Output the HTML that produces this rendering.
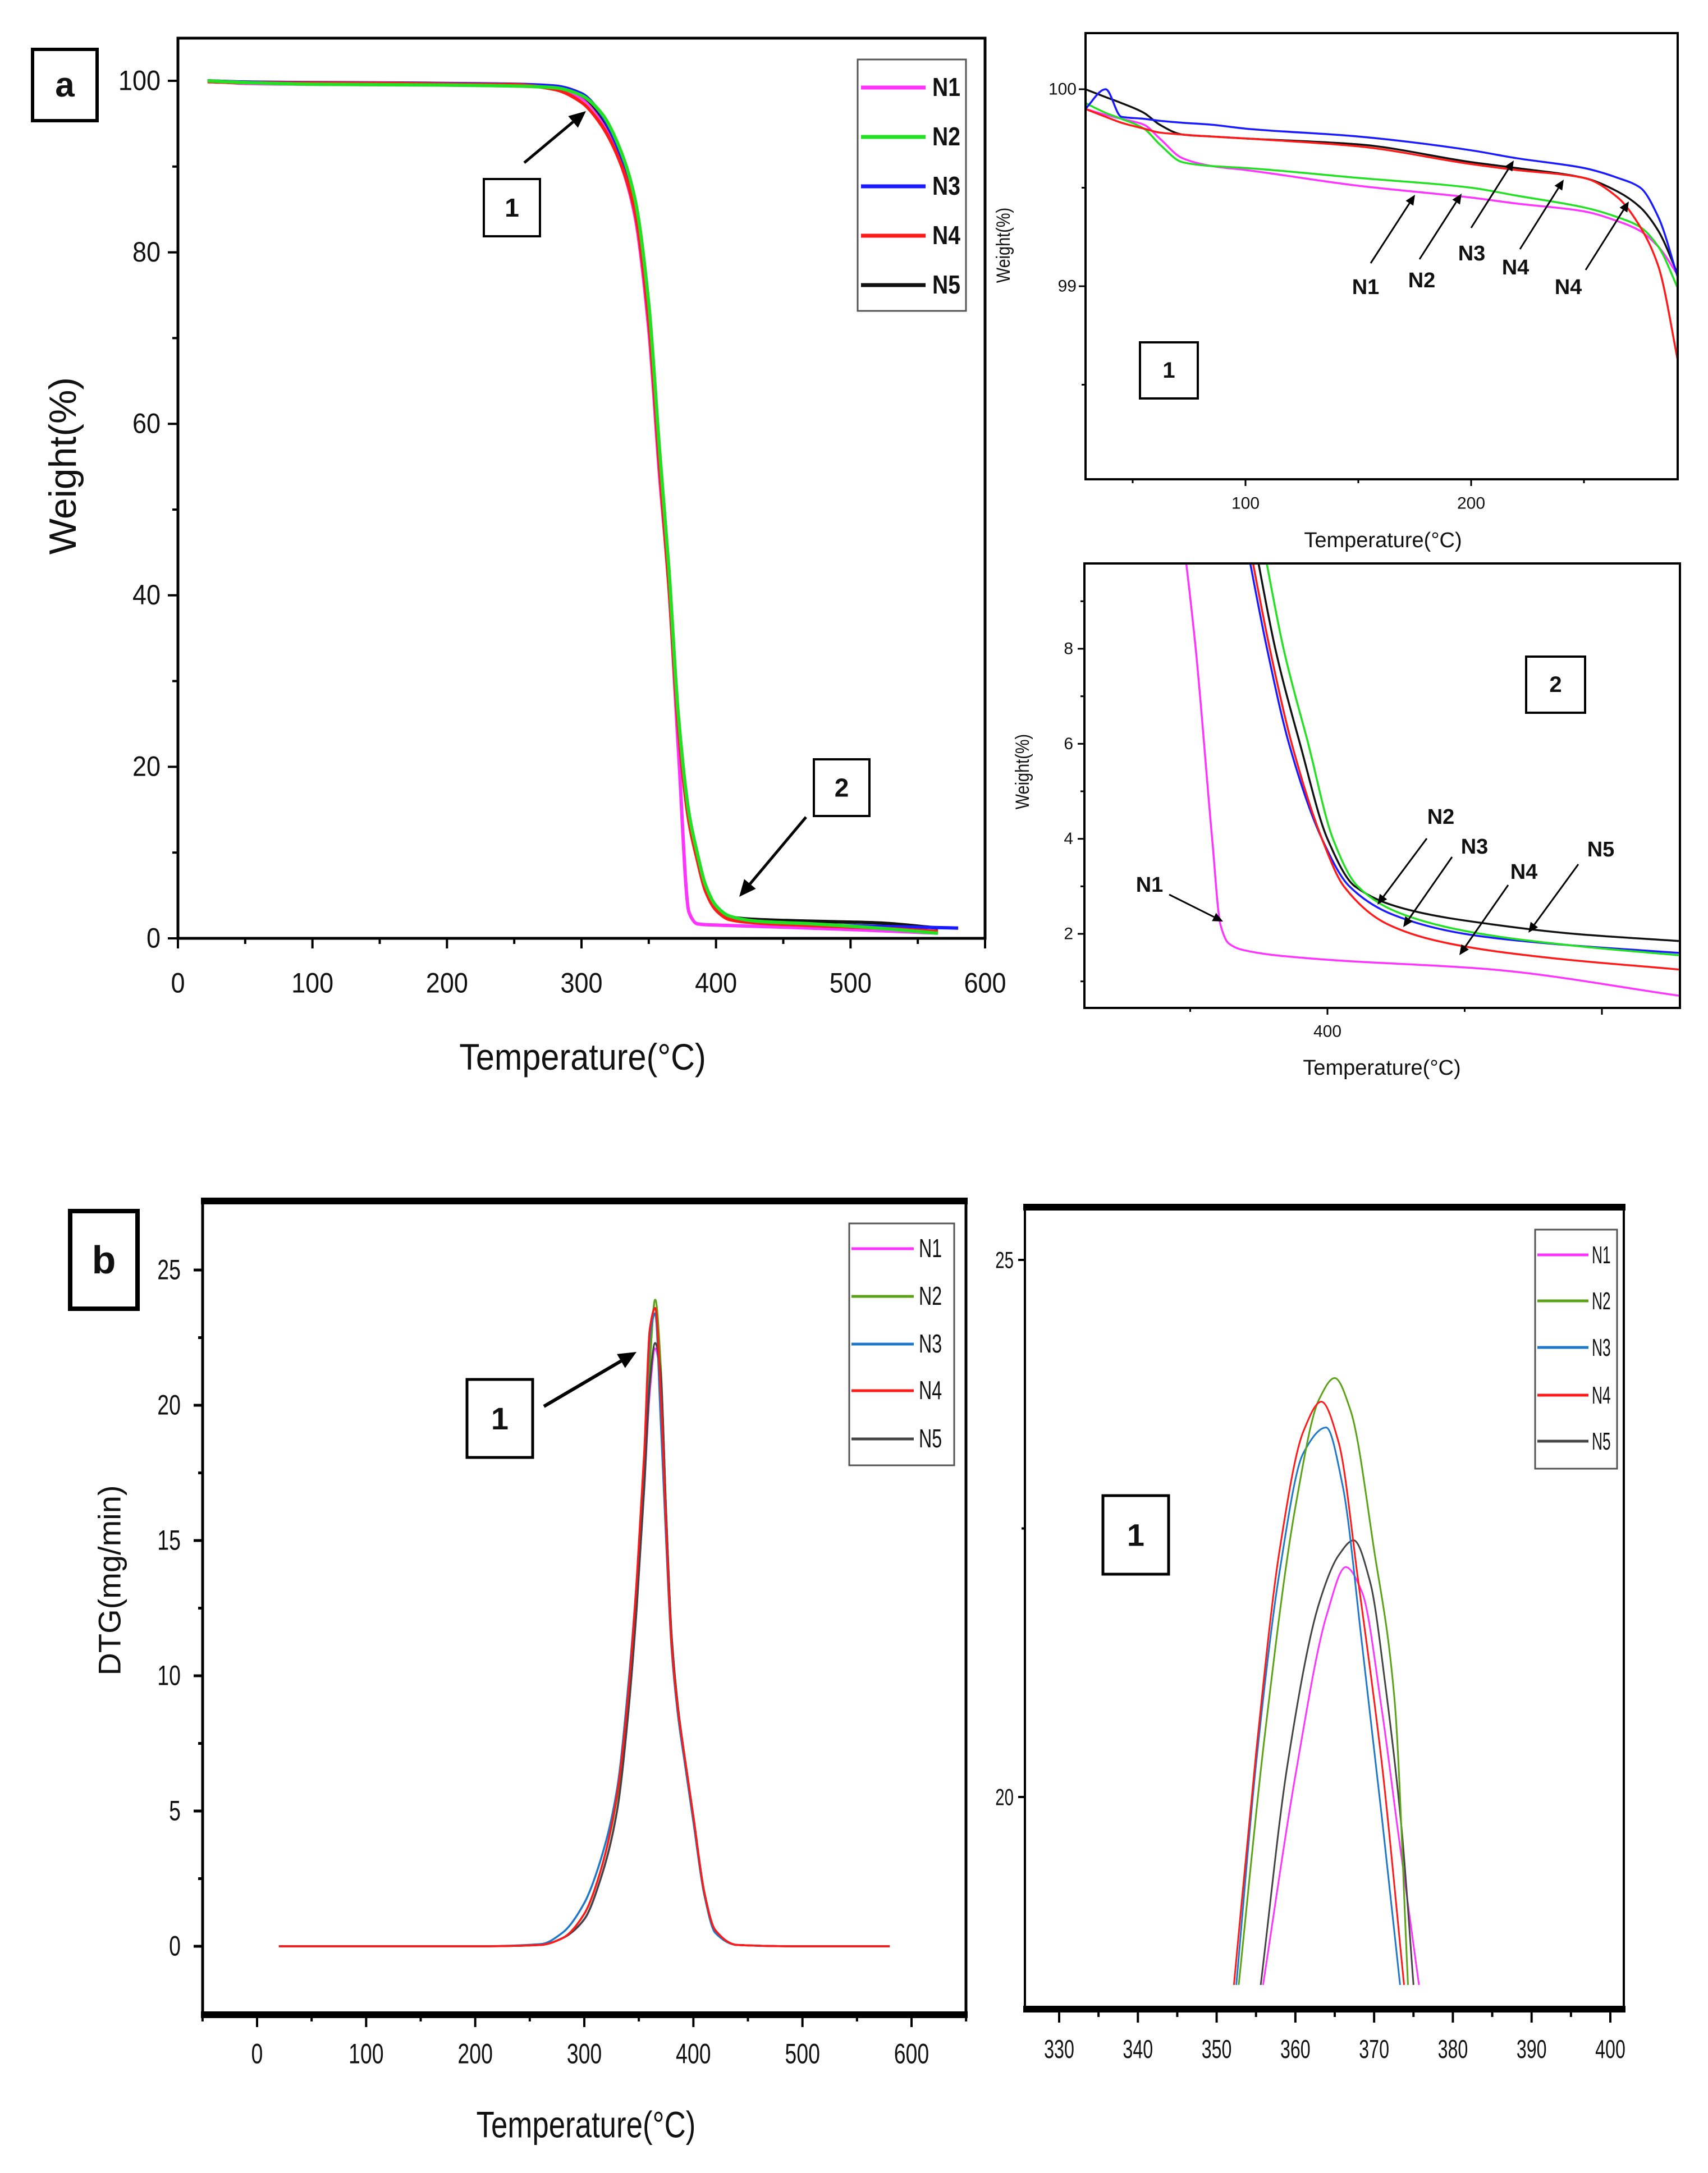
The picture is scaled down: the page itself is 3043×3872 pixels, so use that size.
<!DOCTYPE html>
<html><head><meta charset="utf-8">
<style>
html,body{margin:0;padding:0;background:#fff;}
svg{display:block;}
text{font-family:"Liberation Sans",Arial,sans-serif;fill:#111;}
</style></head>
<body>
<svg id="fig" width="3043" height="3872" viewBox="0 0 3043 3872" xmlns="http://www.w3.org/2000/svg">
<rect x="0" y="0" width="3043" height="3872" fill="#fff"/>
</svg>
<script>
// ---------- DATA ----------
const seriesNames = ["N1","N2","N3","N4","N5"];
// Panel a main TGA
const aTemps = [22,50,100,150,200,250,280,300,315,330,340,350,358,365,372,380,386,392,400,410,430,470,520,565,580];
const aN1 = [100,99.7,99.6,99.55,99.5,99.4,99.2,98,95.5,90,84,71,54,41,22,3,1.7,1.6,1.55,1.5,1.4,1.2,0.9,0.6,null];
const aN2 = [100,99.8,99.6,99.55,99.5,99.4,99.2,98.3,96.2,91.5,86,74,57,43,26,14.5,10,6.3,3.8,2.6,2.0,1.7,1.2,0.6,null];
const aN3 = [100,99.85,99.8,99.76,99.69,99.6,99.4,98.5,96,91,85.5,73,56,42,25,14,9.5,5.8,3.5,2.4,1.9,1.6,1.4,1.25,1.2];
const aN4 = [99.9,99.78,99.75,99.72,99.62,99.55,99.0,97.5,94.8,90,84.5,72,55,41,24.5,13.5,9.2,5.6,3.3,2.2,1.8,1.5,1.2,0.8,null];
const aN5 = [100,99.85,99.75,99.72,99.63,99.55,99.3,98.3,95.8,91,85,73,56,42,25,14,9.5,5.8,3.5,2.5,2.2,2.0,1.8,1.2,null];
// Inset 1 (zoom near 100%)
const i1Temps = [29,38,45,55,62,72,85,100,150,200,220,250,265,275,283,292];
const i1N1 = [99.9,99.87,99.85,99.82,99.75,99.65,99.61,99.59,99.51,99.45,99.42,99.38,99.33,99.28,99.2,99.05];
const i1N2 = [99.93,99.88,99.85,99.8,99.72,99.63,99.61,99.6,99.55,99.5,99.46,99.4,99.35,99.3,99.2,98.98];
const i1N3 = [99.9,100,99.86,99.85,99.84,99.83,99.82,99.8,99.76,99.69,99.65,99.6,99.55,99.5,99.35,99.03];
const i1N4 = [99.9,99.86,99.83,99.8,99.78,99.77,99.76,99.75,99.71,99.62,99.59,99.55,99.45,99.3,99.1,98.6];
const i1N5 = [100,99.96,99.93,99.88,99.82,99.77,99.76,99.75,99.72,99.63,99.6,99.55,99.48,99.4,99.28,99.05];
// Inset 2 (tail)
const i2N1T = [372,376,379,380.5,382,385,395,430,464];
const i2N1W = [12,8,4,2.2,1.8,1.65,1.5,1.25,0.7];
const i2N2T = [387,389,392,396.5,401,405.5,414,428,445,464];
const i2N2W = [11,9.76,8,6,4,3,2.4,2.0,1.75,1.55];
const i2N3T = [384,386,389,393,399,404,412,425,440,464];
const i2N3W = [11,9.76,8,6,4,3,2.4,2.0,1.8,1.6];
const i2N4T = [384.5,386.5,389.5,393.5,399,403,411,422,440,464];
const i2N4W = [11,9.76,8,6,4,3,2.2,1.8,1.5,1.25];
const i2N5T = [385.5,387.5,390.5,395,400,405,415,430,445,464];
const i2N5W = [11,9.76,8,6,4,3,2.5,2.2,2.0,1.85];
// Panel b main DTG
const bTemps = [20,100,200,260,280,300,315,330,340,348,355,360,365,370,375,380,386,392,400,410,420,440,500,580];
const bN1 = [0,0,0,0.05,0.3,1.0,2.5,5.0,8.5,12.5,17,20.5,22.1,21,16,11.5,8.8,7,4.8,2,0.6,0.05,0,0];
const bN2 = [0,0,0,0.05,0.3,1.2,2.8,5.5,9,13,17.5,21.5,23.9,21.5,16,11.5,8.8,7,4.8,2,0.6,0.05,0,0];
const bN3 = [0,0,0,0.08,0.5,1.6,3.2,5.8,9.5,13.5,18,22.5,23.4,19.5,15,11,8.5,6.8,4.6,1.9,0.5,0.05,0,0];
const bN4 = [0,0,0,0.05,0.3,1.2,2.8,5.6,9.2,13.5,18.3,22.8,23.6,20.5,15.5,11.2,8.7,7,4.8,2,0.6,0.05,0,0];
const bN5 = [0,0,0,0.05,0.3,1.0,2.5,5.0,8.5,12.5,17,20.8,22.3,21.2,16,11.5,8.8,7,4.8,2,0.6,0.05,0,0];
// Panel b inset DTG (zoomed peak)
const ibN1T = [355.9,360,364,366.4,368.5,371,373,375.7];
const ibN1V = [18.25,20.2,21.7,22.14,21.9,20.8,19.7,18.25];
const ibN2T = [352.8,356,360,363,365,367,370,372.6,374.3];
const ibN2V = [18.25,20.5,22.7,23.7,23.9,23.6,22.3,20.9,18.25];
const ibN3T = [352.5,355,358,361,363.9,366,368.5,371,373.3];
const ibN3V = [18.25,20.3,22.1,23.2,23.44,22.9,21.4,19.8,18.25];
const ibN4T = [352.2,355,358,361,363.3,365.5,368,371,373.8];
const ibN4V = [18.25,20.4,22.3,23.4,23.68,23.3,22.0,20.3,18.25];
const ibN5T = [355.6,359,363,365.5,367.4,369.5,371.5,373.5,375.0];
const ibN5V = [18.25,20.3,21.8,22.25,22.39,22.0,21.0,19.7,18.25];

const colA = ["#ff33ff","#22e022","#1a1aff","#ff1a1a","#111111"];
const colB = ["#ff33ff","#5aa317","#1f78c8","#ff1a1a","#444444"];

// ---------- HELPERS ----------
const NS="http://www.w3.org/2000/svg";
const svg=document.getElementById('fig');
function mk(tag,attrs,name,parent){
  const el=document.createElementNS(NS,tag);
  for(const k in attrs) el.setAttribute(k,attrs[k]);
  
  
  (parent||svg).appendChild(el);
  return el;
}
function txt(s,x,y,size,name,opts){
  opts=opts||{};
  const t=mk('text',{x:x,y:y,'font-size':size,'text-anchor':opts.anchor||'middle','dominant-baseline':'central','font-weight':opts.weight||'normal'},name,opts.parent);
  if(opts.sx){t.setAttribute('transform','translate('+x+' '+y+') scale('+opts.sx+' 1) translate('+(-x)+' '+(-y)+')');}
  if(opts.rot){t.setAttribute('transform','rotate(-90 '+x+' '+y+')'+(opts.sx?' translate('+x+' '+y+') scale('+opts.sx+' 1) translate('+(-x)+' '+(-y)+')':''));}
  t.textContent=s;
  return t;
}
function scale(d0,d1,p0,p1){return v=>p0+(v-d0)*(p1-p0)/(d1-d0);}
function monoPath(pts){
  const n=pts.length; if(n<2) return '';
  const dx=[],m=[],t=[];
  for(let i=0;i<n-1;i++){dx[i]=pts[i+1][0]-pts[i][0];m[i]=(pts[i+1][1]-pts[i][1])/dx[i];}
  t[0]=m[0];t[n-1]=m[n-2];
  for(let i=1;i<n-1;i++){ if(m[i-1]*m[i]<=0) t[i]=0; else t[i]=3*(dx[i-1]+dx[i])/((2*dx[i]+dx[i-1])/m[i-1]+(dx[i]+2*dx[i-1])/m[i]); }
  let d='M'+pts[0][0].toFixed(1)+','+pts[0][1].toFixed(1);
  for(let i=0;i<n-1;i++){
    const h=dx[i]/3;
    d+=' C'+(pts[i][0]+h).toFixed(1)+','+(pts[i][1]+t[i]*h).toFixed(1)+' '+(pts[i+1][0]-h).toFixed(1)+','+(pts[i+1][1]-t[i+1]*h).toFixed(1)+' '+pts[i+1][0].toFixed(1)+','+pts[i+1][1].toFixed(1);
  }
  return d;
}
function series(T,V,sx,sy,color,w,name,clip){
  const pts=[];
  for(let i=0;i<T.length;i++){ if(V[i]!==null && V[i]!==undefined) pts.push([sx(T[i]),sy(V[i])]); }
  const p=mk('path',{d:monoPath(pts),fill:'none',stroke:color,'stroke-width':w,'stroke-linejoin':'round'},name);
  if(clip) p.setAttribute('clip-path','url(#'+clip+')');
  return p;
}
function clipRect(id,x,y,w,h){
  let defs=svg.querySelector('defs'); if(!defs) defs=mk('defs',{},'defs');
  const c=mk('clipPath',{id:id},'clip-'+id,defs);
  mk('rect',{x:x,y:y,width:w,height:h},'clip-rect-'+id,c);
}
function frame(x0,y0,x1,y1,w,name,wTB){
  mk('rect',{x:x0,y:y0,width:x1-x0,height:y1-y0,fill:'none',stroke:'#000','stroke-width':w},name);
  if(wTB){
    mk('line',{x1:x0-3,y1:y0,x2:x1+3,y2:y0,stroke:'#000','stroke-width':wTB},name+'-top');
    mk('line',{x1:x0-3,y1:y1,x2:x1+3,y2:y1,stroke:'#000','stroke-width':wTB},name+'-bottom');
  }
}
function tickX(vals,sx,y,len,w,name){vals.forEach(v=>mk('line',{x1:sx(v),y1:y,x2:sx(v),y2:y+len,stroke:'#000','stroke-width':w},name));}
function tickY(vals,sy,x,len,w,name){vals.forEach(v=>mk('line',{x1:x,y1:sy(v),x2:x-len,y2:sy(v),stroke:'#000','stroke-width':w},name));}
function boxLabel(s,x0,y0,x1,y1,size,w,name){
  mk('rect',{x:x0,y:y0,width:x1-x0,height:y1-y0,fill:'#fff',stroke:'#000','stroke-width':w},name+'-box');
  txt(s,(x0+x1)/2,(y0+y1)/2,size,name,{weight:'bold'});
}
function arrow(x1,y1,x2,y2,w,head,name){
  const a=Math.atan2(y2-y1,x2-x1);
  const bx=x2-head*Math.cos(a), by=y2-head*Math.sin(a);
  mk('line',{x1:x1,y1:y1,x2:bx,y2:by,stroke:'#000','stroke-width':w},name+'-shaft');
  const px=Math.sin(a)*head*0.45, py=-Math.cos(a)*head*0.45;
  mk('polygon',{points:x2+','+y2+' '+(bx+px)+','+(by+py)+' '+(bx-px)+','+(by-py),fill:'#000'},name+'-head');
}

// ---------- PANEL A MAIN ----------
(function(){
  const L=317,R=1755,T=68,B=1672;
  const sx=scale(0,600,L,R), sy=scale(0,100,B,144);
  clipRect('ca',L,T,R-L,B-T);
  const data=[aN1,aN2,aN3,aN4,aN5];
  const order=[0,4,2,3,1];
  order.forEach(i=>series(aTemps,data[i],sx,sy,colA[i],6,'tga-line-'+seriesNames[i].toLowerCase(),'ca'));
  frame(L,T,R,B,5,'tga-plot-frame');
  tickX([0,100,200,300,400,500,600],sx,B,18,4,'x-major-tick');
  tickX([50,150,250,350,450,550],sx,B,10,4,'x-minor-tick');
  tickY([0,20,40,60,80,100],sy,L,18,4,'y-major-tick');
  tickY([10,30,50,70,90],sy,L,10,4,'y-minor-tick');
  [0,100,200,300,400,500,600].forEach(v=>txt(String(v),sx(v),1752,50,'x-tick-label',{sx:0.9}));
  [0,20,40,60,80,100].forEach(v=>txt(String(v),286,sy(v),50,'y-tick-label',{anchor:'end',sx:0.9}));
  txt('Temperature(°C)',1038,1884,66,'x-axis-title',{sx:0.9});
  txt('Weight(%)',112,830,68,'y-axis-title',{rot:true});
  boxLabel('a',58,88,173,215,62,6,'panel-a-label');
  // legend
  mk('rect',{x:1528,y:106,width:193,height:448,fill:'#fff',stroke:'#555','stroke-width':3},'legend-box');
  seriesNames.forEach((n,i)=>{
    const y=156+i*88;
    mk('line',{x1:1534,y1:y,x2:1649,y2:y,stroke:colA[i],'stroke-width':7},'legend-line-'+n.toLowerCase());
    txt(n,1661,y,46,'legend-entry-'+n.toLowerCase(),{anchor:'start',weight:'bold',sx:0.85});
  });
  boxLabel('1',862,319,962,421,46,4,'callout-1');
  arrow(934,290,1044,198,5,30,'callout-1-arrow');
  boxLabel('2',1450,1353,1549,1454,46,4,'callout-2');
  arrow(1436,1456,1317,1598,5,30,'callout-2-arrow');
})();

// ---------- INSET 1 ----------
(function(){
  const L=1934,R=2989,T=59,B=854;
  const sx=scale(100,200,2219,2621), sy=scale(99,100,510,159);
  clipRect('ci1',L,T,R-L,B-T);
  const data=[i1N1,i1N2,i1N3,i1N4,i1N5];
  [0,1,4,3,2].forEach(i=>series(i1Temps,data[i],sx,sy,colA[i],3.5,'inset1-line-'+seriesNames[i].toLowerCase(),'ci1'));
  frame(L,T,R,B,4,'inset1-frame');
  tickX([100,200],sx,B,12,3,'inset1-x-major-tick');
  tickX([50,150,250],sx,B,7,3,'inset1-x-minor-tick');
  tickY([99,100],sy,L,12,3,'inset1-y-major-tick');
  tickY([98.5,99.5],sy,L,7,3,'inset1-y-minor-tick');
  [100,200].forEach(v=>txt(String(v),sx(v),897,30,'inset1-x-tick-label'));
  [99,100].forEach(v=>txt(String(v),1918,sy(v),30,'inset1-y-tick-label',{anchor:'end'}));
  txt('Temperature(°C)',2464,963,38,'inset1-x-axis-title');
  txt('Weight(%)',1787,437,34,'inset1-y-axis-title',{rot:true,sx:0.85});
  boxLabel('1',2031,610,2134,710,40,4,'inset1-label');
  const ann=[['N1',2433,512,2442,469,2521,347],['N2',2533,500,2529,462,2604,345],['N3',2622,452,2621,406,2697,286],['N4',2700,477,2708,444,2786,320],['N4',2794,512,2825,481,2902,359]];
  ann.forEach((a,k)=>{txt(a[0],a[1],a[2],38,'inset1-annotation-'+k,{weight:'bold'});arrow(a[3],a[4],a[5],a[6],3,18,'inset1-annotation-arrow-'+k);});
})();

// ---------- INSET 2 ----------
(function(){
  const L=1932,R=2993,T=1004,B=1796;
  const sx=scale(400,450,2365,2854), sy=scale(2,8,1664,1156);
  clipRect('ci2',L,T,R-L,B-T);
  const TT=[i2N1T,i2N2T,i2N3T,i2N4T,i2N5T], WW=[i2N1W,i2N2W,i2N3W,i2N4W,i2N5W];
  [0,4,2,3,1].forEach(i=>series(TT[i],WW[i],sx,sy,colA[i],3.5,'inset2-line-'+seriesNames[i].toLowerCase(),'ci2'));
  frame(L,T,R,B,4,'inset2-frame');
  tickX([400,450],sx,B,12,3,'inset2-x-major-tick');
  tickX([375,425],sx,B,7,3,'inset2-x-minor-tick');
  tickY([2,4,6,8],sy,L,12,3,'inset2-y-major-tick');
  tickY([1,3,5,7,9],sy,L,7,3,'inset2-y-minor-tick');
  txt('400',sx(400),1838,30,'inset2-x-tick-label');
  [2,4,6,8].forEach(v=>txt(String(v),1912,sy(v),30,'inset2-y-tick-label',{anchor:'end'}));
  txt('Temperature(°C)',2462,1903,38,'inset2-x-axis-title');
  txt('Weight(%)',1821,1375,34,'inset2-y-axis-title',{rot:true,sx:0.85});
  boxLabel('2',2719,1170,2824,1270,40,4,'inset2-label');
  const ann=[['N2',2567,1456,2542,1494,2454,1612],['N3',2627,1509,2587,1527,2500,1652],['N4',2715,1554,2687,1577,2600,1702],['N5',2852,1514,2812,1540,2723,1662],['N1',2048,1577,2083,1594,2179,1642]];
  ann.forEach((a,k)=>{txt(a[0],a[1],a[2],38,'inset2-annotation-'+k,{weight:'bold'});arrow(a[3],a[4],a[5],a[6],3,18,'inset2-annotation-arrow-'+k);});
})();

// ---------- PANEL B MAIN ----------
(function(){
  const L=361,R=1721,T=2140,B=3590;
  const sx=scale(0,600,458,1624), sy=scale(0,25,3468,2263);
  clipRect('cb',L,T,R-L,B-T);
  const data=[bN1,bN2,bN3,bN4,bN5];
  [0,1,2,4,3].forEach(i=>series(bTemps,data[i],sx,sy,colB[i],3.5,'dtg-line-'+seriesNames[i].toLowerCase(),'cb'));
  frame(L,T,R,B,5,'dtg-plot-frame',12);
  tickX([0,100,200,300,400,500,600],sx,B,22,4,'dtg-x-major-tick');
  tickX([-50,50,150,250,350,450,550,650],sx,B,12,4,'dtg-x-minor-tick');
  tickY([0,5,10,15,20,25],sy,L,16,5,'dtg-y-major-tick');
  tickY([2.5,7.5,12.5,17.5,22.5],sy,L,8,5,'dtg-y-minor-tick');
  [0,100,200,300,400,500,600].forEach(v=>txt(String(v),sx(v),3660,50,'dtg-x-tick-label',{sx:0.75}));
  [0,5,10,15,20,25].forEach(v=>txt(String(v),322,sy(v),50,'dtg-y-tick-label',{anchor:'end',sx:0.75}));
  txt('Temperature(°C)',1044,3786,66,'dtg-x-axis-title',{sx:0.8});
  txt('DTG(mg/min)',195,2816,56,'dtg-y-axis-title',{rot:true});
  boxLabel('b',125,2158,245,2332,70,8,'panel-b-label');
  mk('rect',{x:1513,y:2180,width:187,height:431,fill:'#fff',stroke:'#555','stroke-width':3},'dtg-legend-box');
  const ly=[2225,2310,2395,2478,2564];
  seriesNames.forEach((n,i)=>{
    mk('line',{x1:1517,y1:ly[i],x2:1628,y2:ly[i],stroke:colB[i],'stroke-width':5},'dtg-legend-line-'+n.toLowerCase());
    txt(n,1637,ly[i],46,'dtg-legend-entry-'+n.toLowerCase(),{anchor:'start',sx:0.7});
  });
  boxLabel('1',832,2458,949,2597,56,5,'dtg-callout-1');
  arrow(969,2506,1134,2409,6,32,'dtg-callout-1-arrow');
})();

// ---------- PANEL B INSET ----------
(function(){
  const L=1826,R=2893,T=2151,B=3580;
  const sx=scale(330,400,1887,2869), sy=scale(20,25,3202,2245);
  clipRect('cib',L,T,R-L,B-T);
  const TT=[ibN1T,ibN2T,ibN3T,ibN4T,ibN5T], VV=[ibN1V,ibN2V,ibN3V,ibN4V,ibN5V];
  [0,4,2,1,3].forEach(i=>series(TT[i],VV[i],sx,sy,colB[i],3,'dtg-inset-line-'+seriesNames[i].toLowerCase(),'cib'));
  frame(L,T,R,B,4,'dtg-inset-frame',12);
  const maj=[330,340,350,360,370,380,390,400], mnr=[335,345,355,365,375,385,395];
  tickX(maj,sx,B,24,4,'dtg-inset-x-major-tick');
  tickX(mnr,sx,B,14,4,'dtg-inset-x-minor-tick');
  tickY([20,25],sy,L,12,4,'dtg-inset-y-major-tick');
  tickY([22.5],sy,L,6,4,'dtg-inset-y-minor-tick');
  maj.forEach(v=>txt(String(v),sx(v),3652,46,'dtg-inset-x-tick-label',{sx:0.7}));
  [20,25].forEach(v=>txt(String(v),1806,sy(v),42,'dtg-inset-y-tick-label',{anchor:'end',sx:0.7}));
  mk('rect',{x:2735,y:2191,width:146,height:426,fill:'#fff',stroke:'#555','stroke-width':3},'dtg-inset-legend-box');
  const ly=[2236,2318,2401,2486,2568];
  seriesNames.forEach((n,i)=>{
    mk('line',{x1:2739,y1:ly[i],x2:2830,y2:ly[i],stroke:colB[i],'stroke-width':5},'dtg-inset-legend-line-'+n.toLowerCase());
    txt(n,2836,ly[i],44,'dtg-inset-legend-entry-'+n.toLowerCase(),{anchor:'start',sx:0.6});
  });
  boxLabel('1',1965,2665,2082,2805,56,5,'dtg-inset-label');
})();
</script>
</body></html>
